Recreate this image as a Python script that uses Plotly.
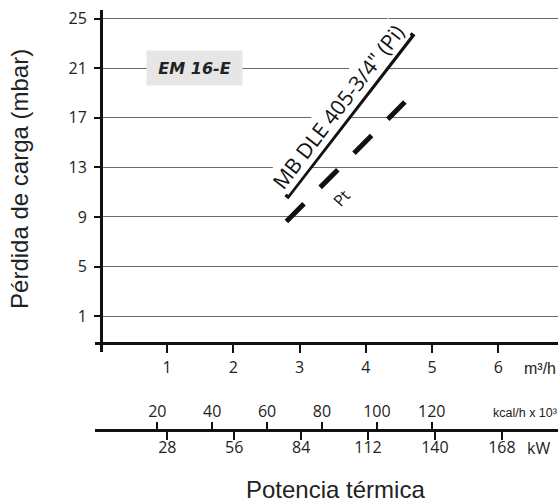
import plotly.graph_objects as go

# ---------------- data ----------------
pi_flow = [2.80, 4.72]          # m3/h  (MB DLE 405-3/4" (Pi))
pi_dp = [10.55, 23.78]          # mbar
pt_flow = [2.80, 4.59]          # m3/h  (Pt)
pt_dp = [8.64, 18.27]           # mbar

y_ticks = [1, 5, 9, 13, 17, 21, 25]
m3h_ticks = [1, 2, 3, 4, 5, 6]
kcal_ticks = [20, 40, 60, 80, 100, 120]
kw_ticks = [28, 56, 84, 112, 140, 168]

W, H = 560, 504
def px(p):
    return p / W
def py(p):
    return 1 - p / H

TICKFONT = dict(family="Open Sans", size=16, color="#222")

fig = go.Figure()
fig.add_trace(go.Scatter(x=pi_flow, y=pi_dp, mode="lines",
                         line=dict(color="#111", width=5), showlegend=False,
                         hoverinfo="skip"))
fig.add_trace(go.Scatter(x=pt_flow, y=pt_dp, mode="lines",
                         line=dict(color="#111", width=5, dash="25px,23px"),
                         showlegend=False, hoverinfo="skip"))
# empty traces to register the secondary scales
fig.add_trace(go.Scatter(x=[], y=[], xaxis="x2", yaxis="y", showlegend=False))
fig.add_trace(go.Scatter(x=[], y=[], xaxis="x3", yaxis="y", showlegend=False))

x_dom = [px(95), px(558)]

fig.update_layout(
    width=W, height=H,
    margin=dict(l=0, r=0, t=0, b=0),
    paper_bgcolor="white", plot_bgcolor="white",
    xaxis=dict(domain=x_dom, range=[-0.0906, 6.903], anchor="free",
               position=py(341.7), showline=True, linewidth=3, linecolor="#111",
               ticks="outside", ticklen=8, tickwidth=1.5, tickcolor="#111",
               tickvals=m3h_ticks, showgrid=False, zeroline=False,
               tickfont=TICKFONT, ticklabelstandoff=1),
    xaxis2=dict(overlaying="x", range=[-2.70, 166.0], anchor="free",
                position=py(429.3), side="top", showline=True, linewidth=3,
                linecolor="#111", ticks="outside", ticklen=7, tickwidth=1.5,
                tickcolor="#111", tickvals=kcal_ticks, showgrid=False,
                zeroline=False, tickfont=TICKFONT, ticklabelstandoff=-2),
    xaxis3=dict(overlaying="x", range=[-2.26, 191.5], anchor="free",
                position=py(429.3), side="bottom", showline=True, linewidth=3,
                linecolor="#111", ticks="outside", ticklen=8, tickwidth=1.5,
                tickcolor="#111", tickvals=kw_ticks, showgrid=False,
                zeroline=False, tickfont=TICKFONT, ticklabelstandoff=-6),
    yaxis=dict(domain=[py(350.7), py(7)], range=[-1.86, 25.70], anchor="free",
               position=px(101), showline=True, linewidth=3, linecolor="#111",
               ticks="outside", ticklen=6, tickwidth=1.5, tickcolor="#111",
               tickvals=y_ticks, showgrid=True, gridcolor="#6a6a6a",
               gridwidth=1.4, zeroline=False, tickfont=TICKFONT,
               ticklabelstandoff=4, ticklabeloverflow="allow"),
)

C = dict(xanchor="center", yanchor="middle", showarrow=False)
ann = []
ann.append(dict(x=1.412, y=21, xref="x", yref="y", text="<b><i>EM 16-E</i></b>",
                font=dict(family="DejaVu Sans", size=16, color="#222"),
                bgcolor="#e6e6e6", width=93, height=32, borderpad=1, **C))
ann.append(dict(x=3.574, y=17.9, xref="x", yref="y",
                text="MB DLE 405-3/4\" (Pi)", textangle=-52.4,
                font=dict(family="Open Sans", size=21, color="#111"),
                bgcolor="white", borderpad=0, **C))
ann.append(dict(x=3.636, y=10.5, xref="x", yref="y", text="Pt", textangle=-48,
                font=dict(family="Open Sans", size=16, color="#111"), **C))
ann.append(dict(x=px(539.5), y=py(368), xref="paper", yref="paper", text="m³/h",
                font=dict(family="Liberation Sans", size=16, color="#222"), **C))
ann.append(dict(x=px(525), y=py(412), xref="paper", yref="paper",
                text="kcal/h x 10³",
                font=dict(family="Liberation Sans", size=12.5, color="#222"), **C))
ann.append(dict(x=px(538), y=py(448), xref="paper", yref="paper", text="kW",
                font=TICKFONT, **C))
ann.append(dict(x=px(20), y=py(177), xref="paper", yref="paper",
                text="Pérdida de carga (mbar)", textangle=-90,
                font=dict(family="Liberation Sans", size=24, color="#222"), **C))
ann.append(dict(x=px(335), y=py(489), xref="paper", yref="paper",
                text="Potencia térmica",
                font=dict(family="Liberation Sans", size=24, color="#222"), **C))
fig.update_layout(annotations=ann)

# the page body normally has an 8px margin; remove it so the figure fills the window
fig.write_html(
    "out.html",
    config={"displayModeBar": False},
    post_script="document.body.style.margin='0';document.body.style.overflow='hidden';",
)
